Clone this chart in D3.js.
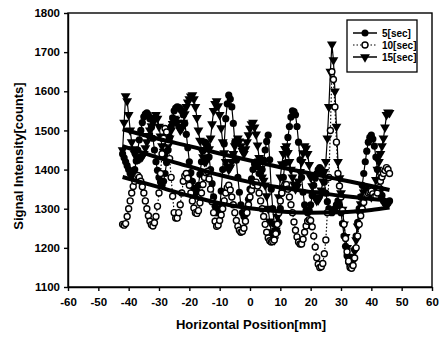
<!DOCTYPE html>
<html>
<head>
<meta charset="utf-8">
<script src="https://cdn.jsdelivr.net/npm/d3@7"></script>
<style>
  body { margin: 0; background: #fff; }
  svg { display: block; font-family: "Liberation Sans", Arial, sans-serif; }
  .axis text { font-size: 11.5px; font-weight: bold; fill: #000; }
  .axis path, .axis line { stroke: #000; stroke-width: 1.4; }
</style>
</head>
<body>
<svg width="439" height="338"></svg>
<script>

// sample positions along the detector [mm], 0.5 mm pitch
const positions = [
  -42,-41.5,-41,-40.5,-40,-39.5,-39,-38.5,-38,-37.5,-37,-36.5,-36,-35.5,-35,-34.5,-34,-33.5,-33,-32.5,
  -32,-31.5,-31,-30.5,-30,-29.5,-29,-28.5,-28,-27.5,-27,-26.5,-26,-25.5,-25,-24.5,-24,-23.5,-23,-22.5,
  -22,-21.5,-21,-20.5,-20,-19.5,-19,-18.5,-18,-17.5,-17,-16.5,-16,-15.5,-15,-14.5,-14,-13.5,-13,-12.5,
  -12,-11.5,-11,-10.5,-10,-9.5,-9,-8.5,-8,-7.5,-7,-6.5,-6,-5.5,-5,-4.5,-4,-3.5,-3,-2.5,
  -2,-1.5,-1,-0.5,0,0.5,1,1.5,2,2.5,3,3.5,4,4.5,5,5.5,6,6.5,7,7.5,
  8,8.5,9,9.5,10,10.5,11,11.5,12,12.5,13,13.5,14,14.5,15,15.5,16,16.5,17,17.5,
  18,18.5,19,19.5,20,20.5,21,21.5,22,22.5,23,23.5,24,24.5,25,25.5,26,26.5,27,27.5,
  28,28.5,29,29.5,30,30.5,31,31.5,32,32.5,33,33.5,34,34.5,35,35.5,36,36.5,37,37.5,
  38,38.5,39,39.5,40,40.5,41,41.5,42,42.5,43,43.5,44,44.5,45,45.5,46];

const sec5 = [
  1440,1430,1420,1410,1400,1390,1380,1385,1400,1422,1450,1476,1500,1520,1535,1542,1545,1540,1530,1508,
  1480,1450,1420,1398,1380,1368,1360,1370,1390,1418,1450,1482,1510,1532,1550,1557,1560,1559,1555,1550,
  1540,1518,1490,1456,1420,1392,1370,1352,1340,1345,1360,1388,1420,1448,1470,1468,1460,1432,1400,1364,
  1330,1306,1290,1290,1300,1345,1400,1466,1530,1568,1590,1580,1560,1518,1470,1424,1380,1342,1310,1290,
  1280,1286,1300,1324,1350,1376,1400,1414,1420,1408,1390,1392,1400,1424,1450,1472,1488,1425,1350,1300,
  1260,1245,1240,1265,1300,1340,1380,1416,1450,1482,1510,1534,1550,1548,1540,1510,1470,1425,1380,1342,
  1310,1296,1290,1296,1310,1334,1360,1378,1390,1400,1405,1400,1390,1368,1340,1318,1300,1292,1290,1294,
  1300,1310,1320,1308,1290,1262,1230,1204,1180,1164,1155,1158,1170,1196,1230,1265,1300,1330,1360,1390,
  1420,1447,1470,1482,1488,1478,1460,1432,1400,1374,1350,1334,1320,1314,1310,1314,1320];

const sec10 = [
  1260,1258,1262,1280,1300,1320,1340,1357,1370,1380,1385,1380,1370,1356,1340,1320,1300,1282,1268,1259,
  1256,1264,1280,1306,1340,1390,1440,1480,1505,1496,1470,1428,1380,1332,1290,1276,1276,1290,1310,1340,
  1370,1384,1390,1378,1360,1340,1320,1302,1290,1288,1295,1315,1340,1362,1380,1392,1395,1376,1350,1318,
  1290,1268,1255,1258,1270,1284,1300,1320,1340,1354,1360,1348,1330,1310,1290,1270,1255,1245,1240,1242,
  1250,1268,1290,1310,1330,1347,1360,1367,1368,1358,1340,1320,1300,1280,1260,1240,1225,1218,1215,1216,
  1220,1236,1260,1290,1320,1340,1355,1362,1362,1350,1330,1310,1290,1266,1245,1228,1215,1210,1210,1222,
  1240,1256,1268,1272,1270,1254,1230,1202,1175,1158,1150,1152,1160,1185,1220,1290,1380,1500,1650,1630,
  1560,1470,1390,1358,1330,1296,1260,1224,1190,1166,1150,1148,1155,1174,1200,1230,1260,1282,1300,1316,
  1330,1336,1340,1343,1345,1338,1330,1332,1340,1354,1370,1381,1390,1398,1405,1400,1390];

const sec15 = [
  1450,1520,1588,1575,1540,1500,1470,1452,1440,1432,1430,1428,1430,1433,1440,1455,1470,1486,1500,1511,
  1520,1532,1540,1530,1510,1485,1460,1446,1440,1446,1460,1480,1500,1517,1530,1528,1520,1509,1500,1505,
  1520,1542,1560,1572,1580,1587,1590,1580,1560,1532,1500,1474,1450,1432,1420,1420,1430,1452,1480,1516,
  1550,1568,1575,1562,1540,1506,1470,1442,1420,1408,1400,1406,1420,1440,1460,1472,1480,1472,1460,1448,
  1440,1452,1470,1488,1505,1516,1520,1508,1490,1462,1430,1402,1380,1372,1360,1332,1300,1268,1240,1226,
  1220,1244,1280,1330,1380,1414,1440,1453,1460,1443,1420,1400,1380,1362,1350,1356,1370,1394,1420,1442,
  1460,1454,1440,1412,1380,1358,1340,1328,1320,1322,1330,1347,1370,1394,1420,1480,1560,1650,1720,1680,
  1600,1510,1420,1378,1340,1298,1260,1228,1200,1178,1160,1162,1170,1192,1220,1255,1290,1312,1330,1342,
  1350,1347,1340,1334,1330,1336,1350,1374,1400,1420,1440,1460,1480,1508,1540,1546,1545];

// fitted trend curves, read at a few positions
const trendX = [-42,-30,-20,-10,0,10,20,30,40,46];
const trend5 = [1460,1430,1408,1386,1368,1354,1343,1333,1325,1321];
const trend10 = [1381,1355,1333,1314,1301,1293,1290,1291,1297,1303];
const trend15 = [1503,1478,1460,1441,1423,1406,1390,1374,1358,1348];

const xTicks = [-60,-50,-40,-30,-20,-10,0,10,20,30,40,50,60];
const yTicks = [1100,1200,1300,1400,1500,1600,1700,1800];
const seriesNames = ["5[sec]", "10[sec]", "15[sec]"];

const svg = d3.select("svg");
const margin = {top: 13, right: 7, bottom: 51, left: 68};
const width = 439 - margin.left - margin.right,
      height = 338 - margin.top - margin.bottom;

const x = d3.scaleLinear().domain([-60, 60]).range([0, width]);
const y = d3.scaleLinear().domain([1100, 1800]).range([height, 0]);

const g = svg.append("g")
    .attr("transform", "translate(" + margin.left + "," + margin.top + ")");

// frame
g.append("rect")
    .attr("width", width).attr("height", height)
    .attr("fill", "none").attr("stroke", "#000").attr("stroke-width", 1.4);

// plain hyphen minus, no thousands separator
const plain = function(d) { return String(d); };

g.append("g")
    .attr("class", "axis")
    .attr("transform", "translate(0," + height + ")")
    .call(d3.axisBottom(x).tickValues(xTicks).tickFormat(plain).tickSize(4).tickPadding(7).tickSizeOuter(0));

g.append("g")
    .attr("class", "axis")
    .call(d3.axisLeft(y).tickValues(yTicks).tickFormat(plain).tickSize(4).tickPadding(4).tickSizeOuter(0));

// data
const line = d3.line().x(function(d) { return x(d[0]); }).y(function(d) { return y(d[1]); });
const tri = d3.symbol().type(d3.symbolTriangle).size(42);

function drawSeries(vals, kind) {
  const pts = positions.map(function(p, i) { return [p, vals[i]]; });
  const s = g.append("g");
  s.append("path").datum(pts)
      .attr("d", line).attr("fill", "none").attr("stroke", "#000")
      .attr("stroke-width", 1.2).attr("stroke-dasharray", kind === "open" ? "1.5,2" : null);
  if (kind === "tri") {
    s.selectAll("path.m").data(pts).enter().append("path")
        .attr("class", "m")
        .attr("d", tri)
        .attr("transform", function(d) { return "translate(" + x(d[0]) + "," + y(d[1]) + ") rotate(180)"; })
        .attr("fill", "#000");
  } else {
    s.selectAll("circle").data(pts).enter().append("circle")
        .attr("cx", function(d) { return x(d[0]); })
        .attr("cy", function(d) { return y(d[1]); })
        .attr("r", kind === "open" ? 3 : 3.6)
        .attr("fill", kind === "open" ? "#fff" : "#000")
        .attr("stroke", "#000").attr("stroke-width", kind === "open" ? 1.4 : 0);
  }
}

drawSeries(sec5, "filled");
drawSeries(sec15, "tri");
drawSeries(sec10, "open");

// trend lines on top
const trendLine = d3.line()
    .x(function(d) { return x(d[0]); }).y(function(d) { return y(d[1]); })
    .curve(d3.curveMonotoneX);
[trend15, trend5, trend10].forEach(function(t) {
  g.append("path")
      .datum(trendX.map(function(p, i) { return [p, t[i]]; }))
      .attr("d", trendLine).attr("fill", "none")
      .attr("stroke", "#000").attr("stroke-width", 4);
});

// axis titles
svg.append("text")
    .attr("x", 251).attr("y", 329)
    .attr("text-anchor", "middle")
    .style("font-size", "13px").style("font-weight", "bold")
    .text("Horizontal Position[mm]");

svg.append("text")
    .attr("transform", "translate(23,156) rotate(-90)")
    .attr("text-anchor", "middle")
    .style("font-size", "13px").style("font-weight", "bold")
    .text("Signal Intensity[counts]");

// legend
const lg = svg.append("g").attr("transform", "translate(347,20)");
lg.append("rect").attr("width", 70).attr("height", 52)
    .attr("fill", "#fff").attr("stroke", "#000").attr("stroke-width", 1.3);

seriesNames.forEach(function(name, i) {
  const yy = 13 + i * 12;
  const row = lg.append("g").attr("transform", "translate(0," + yy + ")");
  row.append("line").attr("x1", 6).attr("x2", 30).attr("y1", 0).attr("y2", 0)
      .attr("stroke", "#000").attr("stroke-width", i === 1 ? 1.2 : 1.5)
      .attr("stroke-dasharray", i === 1 ? "1.5,2" : null);
  if (i === 0) {
    row.append("circle").attr("cx", 18).attr("r", 3.5).attr("fill", "#000");
  } else if (i === 1) {
    row.append("circle").attr("cx", 18).attr("r", 3).attr("fill", "#fff")
        .attr("stroke", "#000").attr("stroke-width", 1.4);
  } else {
    row.append("path").attr("d", tri).attr("transform", "translate(18,0) rotate(180)").attr("fill", "#000");
  }
  row.append("text").attr("x", 35).attr("y", 3.5)
      .style("font-size", "10px").style("font-weight", "bold")
      .text(name);
});

</script>
</body>
</html>
